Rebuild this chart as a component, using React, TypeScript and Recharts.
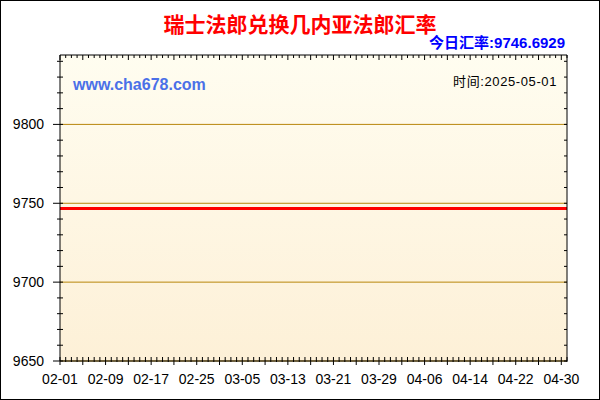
import { ComposedChart, Line, XAxis, YAxis, CartesianGrid, ReferenceLine } from 'recharts'

// daily dates shown on the x axis (2025-02-01 .. 2025-05-01)
const dates = [
  '02-01', '02-02', '02-03', '02-04', '02-05', '02-06', '02-07', '02-08', '02-09', '02-10',
  '02-11', '02-12', '02-13', '02-14', '02-15', '02-16', '02-17', '02-18', '02-19', '02-20',
  '02-21', '02-22', '02-23', '02-24', '02-25', '02-26', '02-27', '02-28',
  '03-01', '03-02', '03-03', '03-04', '03-05', '03-06', '03-07', '03-08', '03-09', '03-10',
  '03-11', '03-12', '03-13', '03-14', '03-15', '03-16', '03-17', '03-18', '03-19', '03-20',
  '03-21', '03-22', '03-23', '03-24', '03-25', '03-26', '03-27', '03-28', '03-29', '03-30', '03-31',
  '04-01', '04-02', '04-03', '04-04', '04-05', '04-06', '04-07', '04-08', '04-09', '04-10',
  '04-11', '04-12', '04-13', '04-14', '04-15', '04-16', '04-17', '04-18', '04-19', '04-20',
  '04-21', '04-22', '04-23', '04-24', '04-25', '04-26', '04-27', '04-28', '04-29', '04-30',
  '05-01',
]

// CHF -> GNF rate, flat over the whole period
const rates = [
  9746.69, 9746.69, 9746.69, 9746.69, 9746.69, 9746.69, 9746.69, 9746.69, 9746.69, 9746.69,
  9746.69, 9746.69, 9746.69, 9746.69, 9746.69, 9746.69, 9746.69, 9746.69, 9746.69, 9746.69,
  9746.69, 9746.69, 9746.69, 9746.69, 9746.69, 9746.69, 9746.69, 9746.69,
  9746.69, 9746.69, 9746.69, 9746.69, 9746.69, 9746.69, 9746.69, 9746.69, 9746.69, 9746.69,
  9746.69, 9746.69, 9746.69, 9746.69, 9746.69, 9746.69, 9746.69, 9746.69, 9746.69, 9746.69,
  9746.69, 9746.69, 9746.69, 9746.69, 9746.69, 9746.69, 9746.69, 9746.69, 9746.69, 9746.69, 9746.69,
  9746.69, 9746.69, 9746.69, 9746.69, 9746.69, 9746.69, 9746.69, 9746.69, 9746.69, 9746.69,
  9746.69, 9746.69, 9746.69, 9746.69, 9746.69, 9746.69, 9746.69, 9746.69, 9746.69, 9746.69,
  9746.69, 9746.69, 9746.69, 9746.69, 9746.69, 9746.69, 9746.69, 9746.69, 9746.69, 9746.69,
  9746.69,
]

const xLabels = ['02-01', '02-09', '02-17', '02-25', '03-05', '03-13', '03-21', '03-29', '04-06', '04-14', '04-22', '04-30']
const yLabels = [9650, 9700, 9750, 9800]
const yTicks = [
  9650, 9660, 9670, 9680, 9690, 9700, 9710, 9720, 9730, 9740,
  9750, 9760, 9770, 9780, 9790, 9800, 9810, 9820, 9830, 9840,
]

const title = '瑞士法郎兑换几内亚法郎汇率'
const todayRate = '今日汇率:9746.6929'
const siteName = 'www.cha678.com'
const timeLabel = '时间:2025-05-01'

const data = dates.map((date, i) => ({ day: i, date, rate: rates[i] }))
const dayTicks = data.map(d => d.day)

const labelFont = "Arial, 'Liberation Sans', sans-serif"

function BottomTick(props: any) {
  const { x, y, payload } = props
  const label = dates[payload.value]
  const major = payload.value % 4 === 0
  return (
    <g>
      <line x1={x} x2={x} y1={y - 4} y2={y + (major ? 4 : 1)} stroke="#000" />
      {xLabels.includes(label) && (
        <text x={x} y={y + 23} textAnchor="middle" fontSize={14} fontFamily={labelFont} fill="#000">
          {label}
        </text>
      )}
    </g>
  )
}

function TopTick(props: any) {
  const { x, y, payload } = props
  const major = payload.value % 4 === 0
  return <line x1={x} x2={x} y1={y} y2={y + (major ? 5 : 3)} stroke="#000" />
}

function LeftTick(props: any) {
  const { x, y, payload } = props
  const major = yLabels.includes(payload.value)
  return (
    <g>
      <line x1={x - (major ? 7 : 3)} x2={x + 3} y1={y} y2={y} stroke="#000" />
      {major && (
        <text x={x - 16} y={y + 5} textAnchor="end" fontSize={14} fontFamily={labelFont} fill="#000">
          {payload.value}
        </text>
      )}
    </g>
  )
}

function RightTick(props: any) {
  const { x, y } = props
  return <line x1={x - 3} x2={x} y1={y} y2={y} stroke="#000" />
}

export default function App() {
  return (
    <div style={{ position: 'relative', width: 600, height: 400, background: '#fff' }}>
      <style>{'body{margin:0}'}</style>
      <ComposedChart width={600} height={400} data={data} margin={{ top: 0, right: 0, bottom: 0, left: 0 }}>
        <defs>
          <linearGradient id="plotBg" x1="0" y1="0" x2="0" y2="1">
            <stop offset="0%" stopColor="#FFFDF0" />
            <stop offset="100%" stopColor="#FDF0D7" />
          </linearGradient>
        </defs>
        <CartesianGrid xAxisId="b" yAxisId="l" horizontal={false} vertical={false} fill="url(#plotBg)" fillOpacity={1} />
        <XAxis
          xAxisId="b"
          dataKey="day"
          type="number"
          domain={[0, 89]}
          ticks={dayTicks}
          interval={0}
          tickSize={0}
          tickMargin={0}
          tick={(p: any) => <BottomTick {...p} />}
          axisLine={{ stroke: '#000' }}
          height={39}
          allowDataOverflow
        />
        <XAxis
          xAxisId="t"
          orientation="top"
          dataKey="day"
          type="number"
          domain={[0, 89]}
          ticks={dayTicks}
          interval={0}
          tickSize={0}
          tickMargin={0}
          tick={(p: any) => <TopTick {...p} />}
          axisLine={{ stroke: '#000' }}
          height={55}
          allowDataOverflow
        />
        <YAxis
          yAxisId="l"
          type="number"
          domain={[9650, 9844]}
          ticks={yTicks}
          interval={0}
          tickSize={0}
          tickMargin={0}
          tick={(p: any) => <LeftTick {...p} />}
          axisLine={{ stroke: '#000' }}
          width={60}
          allowDataOverflow
        />
        <YAxis
          yAxisId="r"
          orientation="right"
          type="number"
          domain={[9650, 9844]}
          ticks={yTicks}
          interval={0}
          tickSize={0}
          tickMargin={0}
          tick={(p: any) => <RightTick {...p} />}
          axisLine={{ stroke: '#000' }}
          width={33}
          allowDataOverflow
        />
        {yLabels.map(v => (
          <ReferenceLine key={v} xAxisId="b" yAxisId="l" y={v} stroke="#B8860B" strokeWidth={1} />
        ))}
        <Line
          xAxisId="t"
          yAxisId="r"
          dataKey="rate"
          stroke="none"
          dot={false}
          activeDot={false}
          isAnimationActive={false}
        />
        <Line
          xAxisId="b"
          yAxisId="l"
          type="linear"
          dataKey="rate"
          stroke="#FF0000"
          strokeWidth={3}
          dot={false}
          activeDot={false}
          isAnimationActive={false}
        />
      </ComposedChart>
      <svg width={600} height={400} style={{ position: 'absolute', left: 0, top: 0, pointerEvents: 'none' }}>
        <text x={300} y={32} textAnchor="middle" fontSize={21} fontWeight="bold" fill="#FF0000"
          fontFamily="'Noto Sans CJK SC', sans-serif">
          {title}
        </text>
        <text x={565} y={48} textAnchor="end" fontSize={15} fontWeight="bold" fill="#0000FF"
          fontFamily="'Liberation Sans', 'Noto Sans CJK SC', sans-serif">
          {todayRate}
        </text>
        <text x={73} y={90} fontSize={16} fontWeight="bold" fill="#4B70E8" fontFamily={labelFont}>
          {siteName}
        </text>
        <text x={557} y={86} textAnchor="end" fontSize={13} fill="#000" letterSpacing={0.6}
          fontFamily="'Liberation Sans', 'Noto Sans CJK SC', sans-serif">
          {timeLabel}
        </text>
        <rect x={0.5} y={0.5} width={599} height={399} fill="none" stroke="#000" strokeWidth={1} />
      </svg>
    </div>
  )
}
